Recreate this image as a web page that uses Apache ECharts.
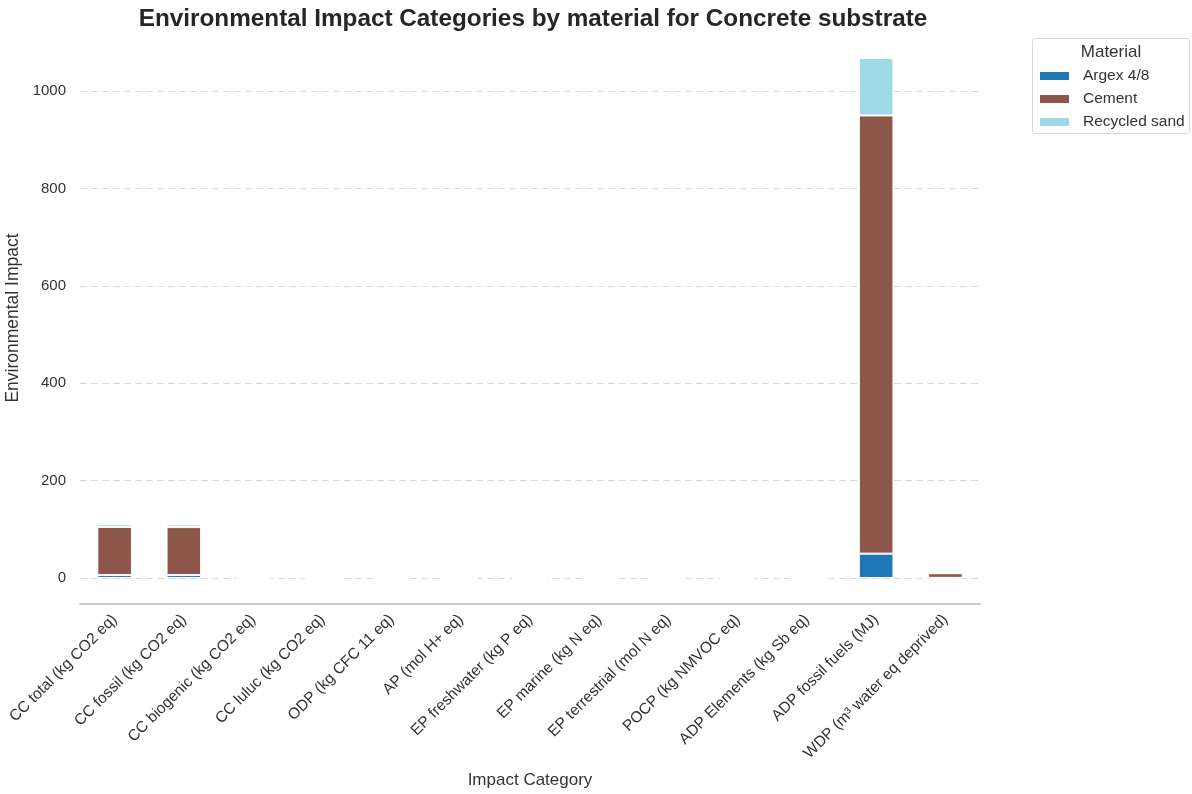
<!DOCTYPE html>
<html>
<head>
<meta charset="utf-8">
<script src="https://cdn.jsdelivr.net/npm/echarts@6/dist/echarts.min.js"></script>
<style>
  html, body { margin: 0; padding: 0; background: #fff; }
  #chart { width: 1192px; height: 794px; }
</style>
</head>
<body>
<div id="chart"></div>
<script>
// Impact categories on the x axis
const categories = [
  'CC total (kg CO2 eq)',
  'CC fossil (kg CO2 eq)',
  'CC biogenic (kg CO2 eq)',
  'CC luluc (kg CO2 eq)',
  'ODP (kg CFC 11 eq)',
  'AP (mol H+ eq)',
  'EP freshwater (kg P eq)',
  'EP marine (kg N eq)',
  'EP terrestrial (mol N eq)',
  'POCP (kg NMVOC eq)',
  'ADP Elements (kg Sb eq)',
  'ADP fossil fuels (MJ)',
  'WDP (m\u00b3 water eq deprived)'
];

// Stacked contributions per material
const argex = [6, 6, 0.02, 0.01, 0.0000004, 0.02, 0.001, 0.005, 0.05, 0.015, 0.00002, 50, 0.3];
const cement = [99, 98.5, 0.4, 0.05, 0.000003, 0.2, 0.002, 0.05, 0.5, 0.15, 0.00005, 900, 9.5];
const recycledSand = [5.5, 5.5, 0.05, 0.01, 0.0000008, 0.03, 0.0005, 0.01, 0.1, 0.03, 0.00001, 118, 0.4];

// Y axis tick labels
const yTicks = [0, 200, 400, 600, 800, 1000];

const font = '"Liberation Sans", Arial, "DejaVu Sans", sans-serif';
const textColor = '#262626';

const chart = echarts.init(document.getElementById('chart'), null, { renderer: 'canvas' });

const barStyle = (color) => ({
  color: color,
  borderColor: '#ffffff',
  borderWidth: 1
});

chart.setOption({
  animation: false,
  backgroundColor: '#ffffff',
  textStyle: { fontFamily: font },
  title: {
    text: 'Environmental Impact Categories by material for Concrete substrate',
    left: 528,
    top: 2,
    textAlign: 'center',
    textStyle: { fontFamily: font, fontSize: 24.3, fontWeight: 'bold', color: textColor }
  },
  grid: { left: 80, right: 212, top: 32, bottom: 190, containLabel: false, outerBoundsMode: 'none' },
  legend: {
    orient: 'vertical',
    left: 1038,
    top: 68,
    padding: 0,
    itemWidth: 31,
    itemHeight: 10,
    itemGap: 7,
    icon: 'rect',
    textStyle: { fontFamily: font, fontSize: 15.5, color: '#333333', padding: [0, 0, 0, 8] },
    data: ['Argex 4/8', 'Cement', 'Recycled sand']
  },
  graphic: [
    {
      type: 'rect',
      shape: { x: 1032.5, y: 38.5, width: 157, height: 95, r: 3 },
      style: { fill: '#ffffff', stroke: '#d6d6d6', lineWidth: 1 },
      z: -1
    },
    {
      type: 'text',
      style: { x: 1111, y: 44, text: 'Material', fill: '#333333', font: '17px ' + font, textAlign: 'center' }
    }
  ],
  xAxis: {
    type: 'category',
    data: categories,
    boundaryGap: true,
    name: 'Impact Category',
    nameLocation: 'middle',
    nameGap: 168,
    nameTextStyle: { fontFamily: font, fontSize: 17, color: '#333333' },
    axisLine: { show: true, onZero: false, lineStyle: { color: '#cccccc', width: 2 } },
    axisTick: { show: false },
    axisLabel: {
      interval: 0,
      rotate: 45,
      margin: 13,
      fontFamily: font,
      fontSize: 15.5,
      color: '#333333'
    },
    splitLine: { show: false }
  },
  yAxis: {
    type: 'value',
    min: -53.4,
    max: 1121.4,
    name: 'Environmental Impact',
    nameLocation: 'middle',
    nameGap: 51,
    nameTextStyle: { fontFamily: font, fontSize: 17.5, color: '#333333' },
    axisLine: { show: false },
    axisTick: { show: false },
    splitLine: { show: false },
    axisLabel: {
      customValues: yTicks,
      formatter: (v) => String(v),
      margin: 14,
      fontFamily: font,
      fontSize: 15,
      color: '#333333'
    }
  },
  series: [
    {
      // dashed horizontal grid lines beneath the bars
      type: 'line',
      data: [],
      z: 1,
      silent: true,
      markLine: {
        silent: true,
        z: 1,
        symbol: 'none',
        label: { show: false },
        lineStyle: { color: '#d9d9d9', width: 1.2, type: [7, 4] },
        data: yTicks.map(v => ({ yAxis: v }))
      }
    },
    {
      name: 'Argex 4/8',
      type: 'bar',
      stack: 'material',
      barWidth: '50%',
      z: 10,
      itemStyle: barStyle('#1f77b4'),
      data: argex
    },
    {
      name: 'Cement',
      type: 'bar',
      stack: 'material',
      barWidth: '50%',
      z: 10,
      itemStyle: barStyle('#8c564b'),
      data: cement
    },
    {
      name: 'Recycled sand',
      type: 'bar',
      stack: 'material',
      barWidth: '50%',
      z: 10,
      itemStyle: barStyle('#9edae5'),
      data: recycledSand
    }
  ]
});
</script>
</body>
</html>
